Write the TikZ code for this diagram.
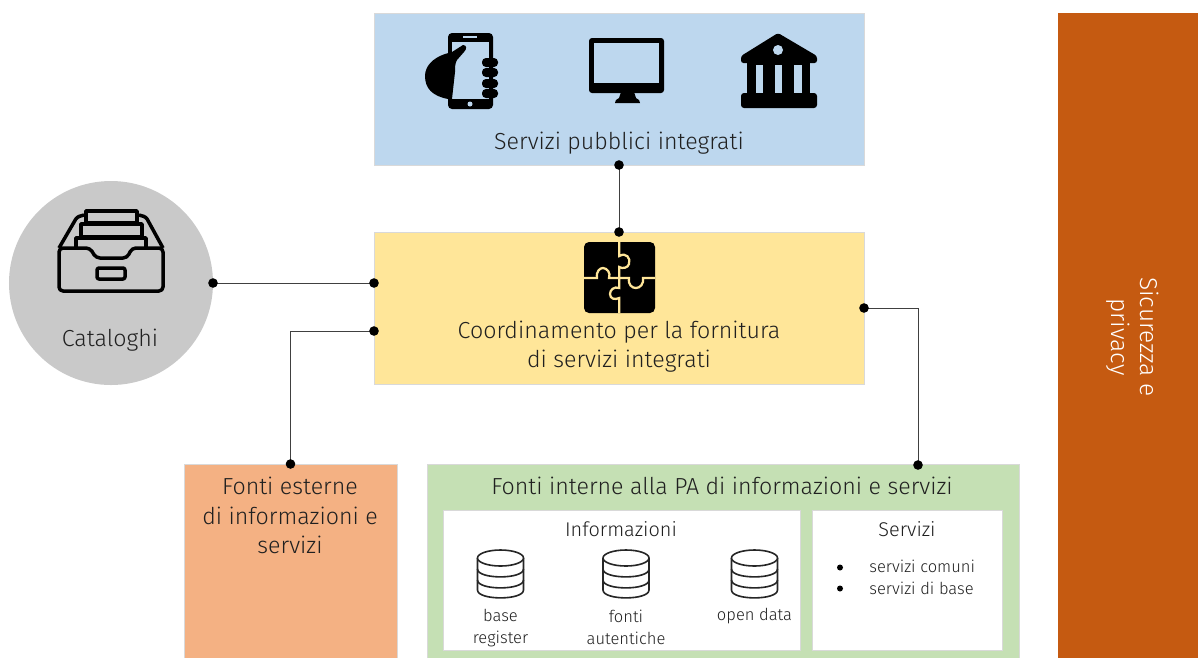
\documentclass[tikz,border=0pt]{standalone}
\usepackage{xcolor}
\usepackage{fontspec}
\setmainfont[UprightFont=* Light]{Fira Sans}
\usepackage{tikz}
\usetikzlibrary{arrows.meta}
\definecolor{bluepanel}{HTML}{BDD7EE}
\definecolor{yellowpanel}{HTML}{FFE699}
\definecolor{greycircle}{HTML}{C9C9C9}
\definecolor{orangepanel}{HTML}{F4B183}
\definecolor{greenpanel}{HTML}{C5E0B4}
\definecolor{rustpanel}{HTML}{C55A11}
\definecolor{labelgrey}{HTML}{202020}
\tikzset{
  panel/.style={draw=black!15, line width=0.2mm, outer sep=0pt, inner sep=0pt},
  bigtext/.style={text=labelgrey, align=center, inner sep=0pt, font=\fontsize{13.2}{16.7}\selectfont},
  midtext/.style={text=labelgrey, align=center, inner sep=0pt, font=\fontsize{11.3}{13}\selectfont},
  smalltext/.style={text=labelgrey, align=center, inner sep=0pt, font=\fontsize{9.4}{12.4}\selectfont},
  dotlink/.style={{Circle[length=1.9mm,color=black]}-{Circle[length=1.9mm,color=black]}, line width=0.2mm, black!75, shorten <=-0.95mm, shorten >=-0.95mm},
  dbline/.style={draw=black!85, fill=white, line width=0.32mm},
  trayline/.style={draw=black, line width=0.7mm, line join=round},
}
\newcommand{\dbicon}[1]{
  \begin{scope}[shift={(#1,0)}]
    \draw[dbline] (-23,558) -- (-23,590) .. controls (-23,600.5) and (23,600.5) .. (23,590) -- (23,558);
    \draw[dbline, fill=none] (-23,569) .. controls (-23,579.5) and (23,579.5) .. (23,569);
    \draw[dbline, fill=none] (-23,580) .. controls (-23,590.5) and (23,590.5) .. (23,580);
    \draw[dbline] (0,558) ellipse (23 and 8);
  \end{scope}
}
\begin{document}
\begin{tikzpicture}[x=0.2mm,y=-0.2mm]
        \useasboundingbox (0,0) rectangle (1198,657);
        \clip (0,0) rectangle (1198,657);

        % Panels
        \node[panel, fill=bluepanel, minimum width=98mm, minimum height=30.4mm] (servizi) at (619,89) {};
        \node[panel, fill=yellowpanel, minimum width=98mm, minimum height=30.4mm] (coordinamento) at (619,308) {};
        \node[panel, circle, draw=none, fill=greycircle, minimum size=40.8mm] (cataloghi) at (111,283) {};
        \node[panel, fill=orangepanel, minimum width=42.6mm, minimum height=44mm] (esterne) at (290.5,574) {};
        \node[panel, fill=greenpanel, minimum width=118.4mm, minimum height=44mm] (interne) at (723,574) {};
        \node[panel, fill=rustpanel, draw=none, minimum width=28mm, minimum height=134mm] (sicurezza) at (1128,348) {};
        \node[panel, fill=white, minimum width=71.4mm, minimum height=28mm] (informazioni) at (621.5,580) {};
        \node[panel, fill=white, minimum width=38mm, minimum height=28mm] (servizibox) at (907,580) {};

        % Labels
        \node[bigtext] (serviziText) at (619,143) {Servizi pubblici integrati};
        \node[bigtext] (coordinamentoText) at (619,346.5) {Coordinamento per la fornitura\\di servizi integrati};
        \node[bigtext] (cataloghiText) at (110,340.5) {Cataloghi};
        \node[bigtext] (esterneText) at (290,515.5) {Fonti esterne\\di informazioni e\\servizi};
        \node[bigtext] (interneText) at (722,486) {Fonti interne alla PA di informazioni e servizi};
        \node[bigtext, text=white, rotate=-90, font=\fontsize{13.9}{16.7}\selectfont] (sicurezzaText) at (1133,337) {Sicurezza e\\privacy};
        \node[midtext] (informazioniText) at (621,529) {Informazioni};
        \node[midtext] (serviziBoxText) at (907,529) {Servizi};
        \node[smalltext] (baseText) at (500.5,628) {base\\register};
        \node[smalltext] (fontiText) at (626,627) {fonti\\autentiche};
        \node[smalltext] (openText) at (754.5,616) {open data};
        \node[smalltext, anchor=west] (comuniText) at (869,566.5) {servizi comuni};
        \node[smalltext, anchor=west] (baseServText) at (869,588) {servizi di base};
        \fill (840,567.5) circle (3);
        \fill (840,588.5) circle (3);

        % Databases
        \dbicon{500.5}
        \dbicon{626}
        \dbicon{754.5}

        % Phone in hand
        \fill[rounded corners=0.8mm] (448,33) rectangle (493,109);
        \fill[bluepanel] (452,42) rectangle (489,99);
        \fill[bluepanel] (470,104) circle (2.5);
        \draw[bluepanel, line width=0.3mm] (463,37) -- (477,37);
        \fill (463,45) .. controls (467,45) and (467,49) .. (464,52) -- (457,60)
          .. controls (455,63) and (455,68) .. (455,72) -- (452,99) -- (448,99)
          .. controls (432,96) and (425,88) .. (425,76) .. controls (425,66) and (433,58) .. (445,54)
          -- (452,52) -- cycle;
        \foreach \y in {58,68,79,89}
          \fill[rounded corners=0.8mm] (482,\y) rectangle (498,\y+9);

        % Monitor
        \fill[rounded corners=0.6mm] (589,38) rectangle (664,93);
        \fill[bluepanel] (594,43) rectangle (659,83);
        \fill (621,92) -- (634,92) -- (636,98) .. controls (639,99) and (640,101) .. (640,103) -- (615,103) .. controls (615,101) and (616,99) .. (619,98) -- cycle;

        % Bank
        \fill[rounded corners=0.5mm] (778,33) -- (817,56) -- (817,63) -- (741,63) -- (741,56) -- cycle;
        \fill[bluepanel] (778,50) circle (5);
        \fill (747,60) rectangle (810,96);
        \fill[rounded corners=0.6mm] (741,93) rectangle (817,108);
        \foreach \x in {755.5,774.5,794}
          \fill[bluepanel] (\x,65) rectangle (\x+7.5,93);

        % Drawer
        \draw[trayline] (86,211) -- (137,211) -- (137,223) -- (86,223) -- cycle;
        \draw[trayline] (81,237) -- (81,224) -- (142,224) -- (142,237) -- cycle;
        \draw[trayline] (76,248) -- (76,238) -- (146,238) -- (146,248);
        \draw[trayline, rounded corners=0.5mm] (84,215) -- (77,217) -- (59,248);
        \draw[trayline, rounded corners=0.5mm] (139,215) -- (146,217) -- (163,248);
        \draw[trayline, rounded corners=0.8mm] (59,248) -- (90,248) -- (96,258) -- (127,258) -- (132,248) -- (163,248) -- (163,291) -- (59,291) -- cycle;
        \draw[trayline, rounded corners=0.4mm] (97,268) rectangle (125,279);

        % Puzzle
        \fill[rounded corners=1mm] (584,242) rectangle (655,313);
        \draw[yellowpanel, line width=0.45mm] (619.3,242) -- (619.3,256) .. controls (626,252) and (631,258) .. (629,264) .. controls (628,268) and (622,269) .. (619.3,267) -- (619.3,288) .. controls (614,286) and (610,290) .. (610,294) .. controls (610,299) and (615,300) .. (619.3,298) -- (619.3,313);
        \draw[yellowpanel, line width=0.45mm] (584,278) -- (597,278) .. controls (596,271) and (600,268) .. (603,268) .. controls (607,268) and (611,273) .. (609,278) -- (629,278) .. controls (628,285) and (632,288) .. (636,288) .. controls (640,288) and (644,284) .. (643,278) -- (655,278);

        % Connectors
        \coordinate (coordinamentoOvest) at (374,331);
        \coordinate (interneNord) at (918,465);
        \draw[dotlink] (servizi.south) -- (coordinamento.north);
        \draw[dotlink] (cataloghi.east) -- (cataloghi.east -| coordinamento.west);
        \draw[dotlink] (coordinamentoOvest) -| (esterne.north);
        \draw[dotlink] (coordinamento.east) -| (interneNord);
\end{tikzpicture}
\end{document}
